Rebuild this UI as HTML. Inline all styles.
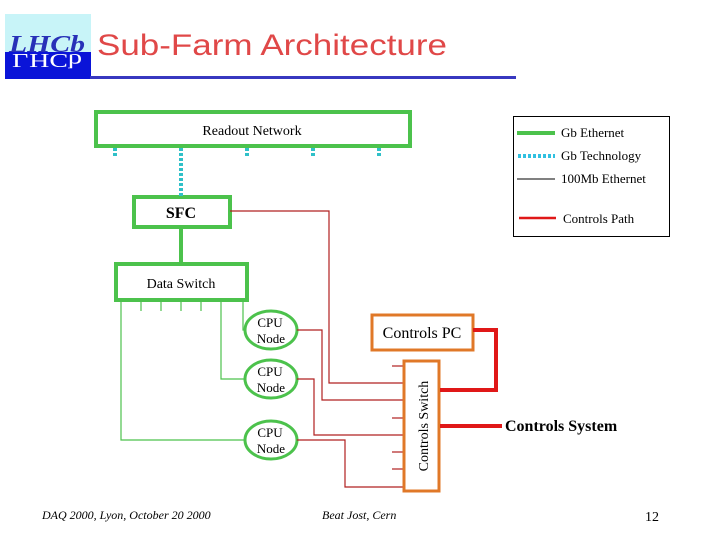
<!DOCTYPE html>
<html><head><meta charset="utf-8"><style>
body{margin:0;background:#fff;}
svg{display:block;}
text{font-family:"Liberation Serif",serif;}
</style></head><body>
<svg width="720" height="540" viewBox="0 0 720 540">
<rect x="5" y="14" width="86" height="38" fill="#c8f4f8"/>
<rect x="5" y="52" width="86" height="27" fill="#0a14d8"/>
<text x="9" y="52" font-size="24" font-style="italic" font-weight="bold" fill="#2830b8" textLength="76" lengthAdjust="spacingAndGlyphs">LHCb</text>
<text x="12" y="-54" font-size="20" fill="#fff" transform="scale(1,-1)" textLength="70" lengthAdjust="spacingAndGlyphs">LHCb</text>
<text x="97" y="55" font-size="30" fill="#e04848" style="font-family:'Liberation Sans',sans-serif" textLength="350" lengthAdjust="spacingAndGlyphs">Sub-Farm Architecture</text>
<rect x="90" y="76" width="426" height="3" fill="#3838c0"/>

<g fill="none" stroke="#4cc24c" stroke-width="4">
<rect x="96" y="112" width="314" height="34"/>
<rect x="134" y="197" width="96" height="30"/>
<rect x="116" y="264" width="131" height="36"/>
<line x1="181" y1="227" x2="181" y2="264"/>
</g>
<g stroke="#30c0c8" stroke-width="4" stroke-dasharray="3,2">
<line x1="115" y1="148" x2="115" y2="158"/>
<line x1="181" y1="148" x2="181" y2="196"/>
<line x1="247" y1="148" x2="247" y2="158"/>
<line x1="313" y1="148" x2="313" y2="158"/>
<line x1="379" y1="148" x2="379" y2="158"/>
</g>
<text x="252" y="135" font-size="14" text-anchor="middle">Readout Network</text>
<text x="181" y="218" font-size="16" font-weight="bold" text-anchor="middle">SFC</text>
<text x="181" y="288" font-size="14" text-anchor="middle">Data Switch</text>

<g fill="none" stroke="#4cc24c" stroke-width="1.2">
<polyline points="121,300 121,440 245,440"/>
<polyline points="221,300 221,379 245,379"/>
<polyline points="243,300 243,330 245,330"/>
<line x1="141" y1="300" x2="141" y2="311"/><line x1="161" y1="300" x2="161" y2="311"/>
<line x1="181" y1="300" x2="181" y2="311"/><line x1="201" y1="300" x2="201" y2="311"/>
</g>
<g fill="#fff" stroke="#4cc24c" stroke-width="3">
<ellipse cx="271" cy="330" rx="26" ry="19"/>
<ellipse cx="271" cy="379" rx="26" ry="19"/>
<ellipse cx="271" cy="440" rx="26" ry="19"/>
</g>
<g font-size="13" text-anchor="middle">
<text x="270" y="327">CPU</text><text x="271" y="343">Node</text>
<text x="270" y="376">CPU</text><text x="271" y="392">Node</text>
<text x="270" y="437">CPU</text><text x="271" y="453">Node</text>
</g>

<g fill="none" stroke="#b02020" stroke-width="1.2">
<polyline points="230,211 329,211 329,383 403,383"/>
<polyline points="297,330 322,330 322,400 403,400"/>
<polyline points="297,379 314,379 314,435 403,435"/>
<polyline points="297,440 345,440 345,487 403,487"/>
<line x1="392" y1="366" x2="403" y2="366"/><line x1="392" y1="418" x2="403" y2="418"/>
<line x1="392" y1="452" x2="403" y2="452"/><line x1="392" y1="469" x2="403" y2="469"/>
</g>
<g fill="#fff" stroke="#e07828" stroke-width="3">
<rect x="372" y="315" width="101" height="35"/>
<rect x="404" y="361" width="35" height="130"/>
</g>
<text x="422" y="338" font-size="16" text-anchor="middle">Controls PC</text>
<text transform="translate(428,426) rotate(-90)" font-size="14" text-anchor="middle">Controls Switch</text>
<g fill="none" stroke="#e01818" stroke-width="4">
<polyline points="473,330 496,330 496,390 440,390"/>
<line x1="440" y1="426" x2="502" y2="426"/>
</g>
<text x="505" y="431" font-size="16" font-weight="bold">Controls System</text>

<rect x="513.5" y="116.5" width="156" height="120" fill="none" stroke="#000" stroke-width="1"/>
<line x1="517" y1="133" x2="555" y2="133" stroke="#4cc24c" stroke-width="4"/>
<line x1="518" y1="156" x2="555" y2="156" stroke="#30c0e0" stroke-width="4" stroke-dasharray="3,2"/>
<line x1="517" y1="179" x2="555" y2="179" stroke="#000" stroke-width="1"/>
<line x1="519" y1="218" x2="556" y2="218" stroke="#e01818" stroke-width="2.5"/>
<g font-size="13">
<text x="561" y="137">Gb Ethernet</text>
<text x="561" y="160">Gb Technology</text>
<text x="561" y="183">100Mb Ethernet</text>
<text x="563" y="223">Controls Path</text>
</g>
<text x="42" y="519" font-size="12" font-style="italic">DAQ 2000, Lyon, October 20 2000</text>
<text x="322" y="519" font-size="12" font-style="italic">Beat Jost, Cern</text>
<text x="645" y="521" font-size="14">12</text>
</svg>
</body></html>
